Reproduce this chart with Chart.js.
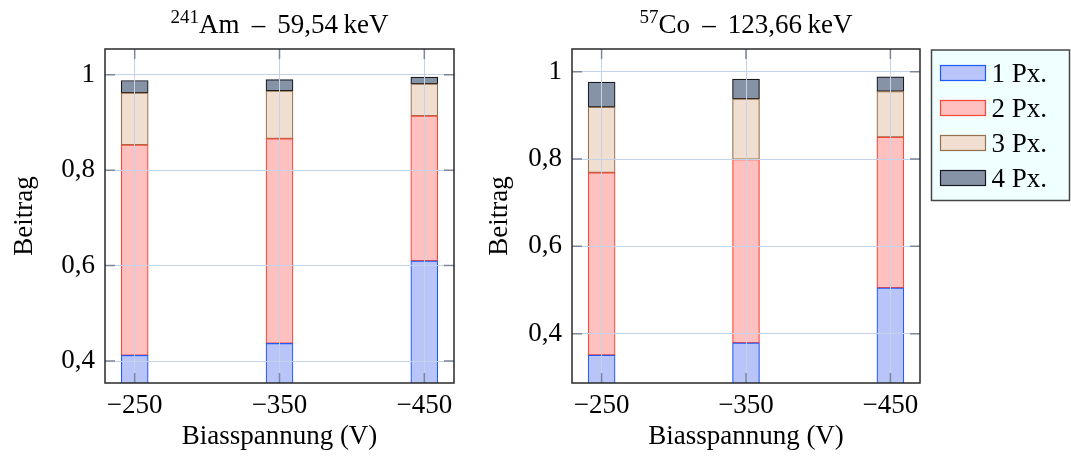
<!DOCTYPE html>
<html>
<head>
<meta charset="utf-8">
<script src="https://cdn.jsdelivr.net/npm/chart.js@4.4.0/dist/chart.umd.min.js"></script>
<style>
  body { margin: 0; background: #fff; width: 1071px; height: 466px; overflow: hidden; position: relative; }
  canvas { position: absolute; top: 0; }
</style>
</head>
<body>
<canvas id="amChart" width="475" height="466" style="left:0"></canvas>
<canvas id="coChart" width="596" height="466" style="left:475px"></canvas>
<script>
// bias voltages (V) and the share of events by pixel multiplicity
const biasVoltages = [-250, -350, -450];
const pixelLabels = ['1 Px.', '2 Px.', '3 Px.', '4 Px.'];
const yTicks = [0.4, 0.6, 0.8, 1];

// 241Am, 59.54 keV
const am1Px = [0.412, 0.437, 0.610];
const am2Px = [0.441, 0.429, 0.304];
const am3Px = [0.109, 0.100, 0.067];
const am4Px = [0.026, 0.024, 0.014];

// 57Co, 123.66 keV
const co1Px = [0.351, 0.379, 0.505];
const co2Px = [0.418, 0.420, 0.345];
const co3Px = [0.150, 0.139, 0.105];
const co4Px = [0.057, 0.045, 0.033];

const FONT = "'Liberation Serif', 'DejaVu Serif', serif";
const FS = 27;
const fills = ['rgb(185,196,248)', 'rgb(255,192,192)', 'rgb(240,222,208)', 'rgb(134,147,167)'];
const edges = ['rgb(30,90,255)', 'rgb(255,70,50)', 'rgb(150,112,75)', 'rgb(25,25,30)'];
const gridColor = 'rgb(196,210,234)';
const tickColor = 'rgb(125,135,152)';

const minus = v => (v < 0 ? '\u2212' : '') + Math.abs(v);
const comma = v => (v === 1 ? '1' : v.toFixed(1).replace('.', ','));

function makeDatasets(series) {
  return series.map((vals, i) => ({
    label: pixelLabels[i],
    data: vals.map((v, j) => ({ x: biasVoltages[j], y: v })),
    backgroundColor: fills[i],
    borderColor: edges[i],
    borderWidth: 1.2,
    borderSkipped: false,
    barThickness: 27
  }));
}

// title with superscript isotope mass number
const isoTitle = {
  id: 'isoTitle',
  afterDraw(chart, args, opts) {
    const ctx = chart.ctx;
    const cx = (chart.chartArea.left + chart.chartArea.right) / 2;
    ctx.save();
    ctx.fillStyle = '#000';
    ctx.textBaseline = 'alphabetic';
    ctx.textAlign = 'left';
    ctx.font = '19px ' + FONT;
    const wSup = ctx.measureText(opts.mass).width;
    ctx.font = FS + 'px ' + FONT;
    const wMain = ctx.measureText(opts.text).width;
    const x = cx - (wSup + wMain) / 2;
    ctx.font = '19px ' + FONT;
    ctx.fillText(opts.mass, x, 23);
    ctx.font = FS + 'px ' + FONT;
    ctx.fillText(opts.text, x + wSup, 33);
    ctx.restore();
  }
};

// frame around plot area plus inner tick marks on all four sides
const frame = {
  id: 'frame',
  afterDraw(chart) {
    const { ctx, chartArea: a, scales } = chart;
    ctx.save();
    ctx.strokeStyle = tickColor;
    ctx.lineWidth = 1.5;
    ctx.beginPath();
    scales.y.ticks.forEach(t => {
      const y = scales.y.getPixelForValue(t.value);
      ctx.moveTo(a.left, y); ctx.lineTo(a.left + 10, y);
      ctx.moveTo(a.right, y); ctx.lineTo(a.right - 10, y);
    });
    scales.x.ticks.forEach(t => {
      const x = scales.x.getPixelForValue(t.value);
      ctx.moveTo(x, a.top); ctx.lineTo(x, a.top + 10);
      ctx.moveTo(x, a.bottom); ctx.lineTo(x, a.bottom - 10);
    });
    ctx.stroke();
    ctx.strokeStyle = 'rgb(40,40,40)';
    ctx.lineWidth = 1.5;
    ctx.strokeRect(a.left, a.top, a.right - a.left, a.bottom - a.top);
    ctx.restore();
  }
};

// legend box outside the right plot
const boxLegend = {
  id: 'boxLegend',
  afterDraw(chart, args, opts) {
    const ctx = chart.ctx;
    ctx.save();
    ctx.fillStyle = 'rgb(240,255,255)';
    ctx.fillRect(opts.x, opts.y, opts.w, opts.h);
    ctx.strokeStyle = 'rgb(70,70,70)';
    ctx.lineWidth = 1.5;
    ctx.strokeRect(opts.x, opts.y, opts.w, opts.h);
    ctx.font = FS + 'px ' + FONT;
    ctx.textBaseline = 'alphabetic';
    chart.data.datasets.forEach((ds, i) => {
      const cy = opts.y + 23 + i * 35;
      ctx.fillStyle = ds.backgroundColor;
      ctx.fillRect(opts.x + 9, cy - 7.5, 45, 15);
      ctx.strokeStyle = ds.borderColor;
      ctx.lineWidth = 1.2;
      ctx.strokeRect(opts.x + 9, cy - 7.5, 45, 15);
      ctx.fillStyle = '#000';
      ctx.fillText(ds.label, opts.x + 60, cy + 9);
    });
    ctx.restore();
  }
};

function makeChart(id, series, yMin, yMax, mass, text, yAxisWidth, padRight, legend) {
  return new Chart(document.getElementById(id), {
    type: 'bar',
    data: { datasets: makeDatasets(series) },
    plugins: [isoTitle, frame, boxLegend],
    options: {
      responsive: false,
      animation: false,
      layout: { padding: { top: 49, right: padRight, left: 0, bottom: 0 } },
      plugins: {
        legend: { display: false },
        tooltip: { enabled: false },
        isoTitle: { mass: mass, text: text },
        boxLegend: legend
      },
      scales: {
        x: {
          type: 'linear',
          reverse: true,
          stacked: true,
          offset: false,
          min: -470.5,
          max: -229.5,
          afterBuildTicks: s => { s.ticks = biasVoltages.map(v => ({ value: v })); },
          afterFit: s => { s.height = 83; },
          grid: { color: gridColor, drawTicks: false, offset: false, z: 1 },
          border: { display: false },
          ticks: { padding: 7, color: '#000', font: { family: FONT, size: FS }, callback: minus },
          title: { display: true, text: 'Biasspannung (V)', color: '#000', font: { family: FONT, size: FS }, padding: { top: 0, bottom: 13 } }
        },
        y: {
          stacked: true,
          min: yMin,
          max: yMax,
          afterBuildTicks: s => { s.ticks = yTicks.map(v => ({ value: v })); },
          afterFit: s => { s.width = yAxisWidth; },
          grid: { color: gridColor, drawTicks: false, z: 1 },
          border: { display: false },
          ticks: { padding: 10, color: '#000', font: { family: FONT, size: FS }, callback: comma },
          title: { display: true, text: 'Beitrag', color: '#000', font: { family: FONT, size: FS }, padding: { top: 9, bottom: 0 } }
        }
      }
    }
  });
}

makeChart('amChart', [am1Px, am2Px, am3Px, am4Px], 0.354, 1.054,
  '241', 'Am \u2009\u2013\u2009 59,54\u2009keV', 105, 21, null);
makeChart('coChart', [co1Px, co2Px, co3Px, co4Px], 0.287, 1.052,
  '57', 'Co \u2009\u2013\u2009 123,66\u2009keV', 97, 151, { x: 456.5, y: 50, w: 138, h: 150.5 });
</script>
</body>
</html>
